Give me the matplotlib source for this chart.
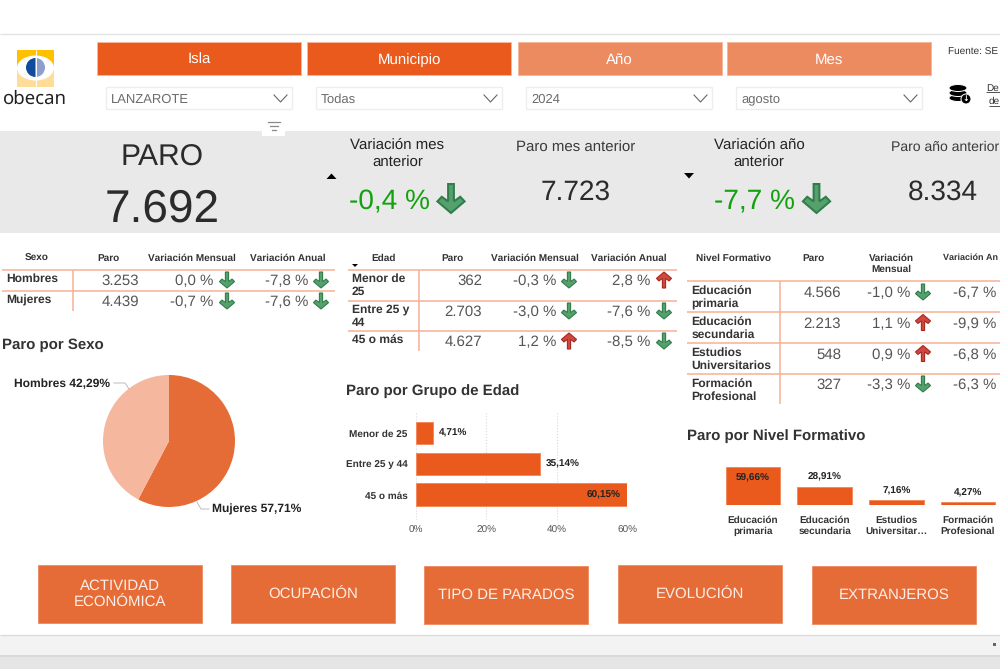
import matplotlib
matplotlib.use("Agg")
import matplotlib.pyplot as plt
from matplotlib.patches import Rectangle, Polygon, Ellipse, Wedge, Circle

plt.rcParams['font.family'] = ['Liberation Sans', 'DejaVu Sans']
plt.rcParams['text.hinting'] = 'no_hinting'
plt.rcParams['text.hinting_factor'] = 1

# ---------- data ----------
filter_titles = ['Isla', 'Municipio', 'Año', 'Mes']
filter_values = ['LANZAROTE', 'Todas', '2024', 'agosto']
nav_labels = ['ACTIVIDAD\nECONÓMICA', 'OCUPACIÓN', 'TIPO DE PARADOS', 'EVOLUCIÓN', 'EXTRANJEROS']

paro_total = '7.692'
paro_mes_anterior = '7.723'
paro_anio_anterior = '8.334'
var_mes = -0.4
var_anio = -7.7

sexo_labels = ['Hombres', 'Mujeres']
sexo_paro = ['3.253', '4.439']
sexo_mens = [0.0, -0.7]
sexo_anual = [-7.8, -7.6]

edad_labels = ['Menor de\n25', 'Entre 25 y\n44', '45 o más']
edad_paro = ['362', '2.703', '4.627']
edad_mens = [-0.3, -3.0, 1.2]
edad_anual = [2.8, -7.6, -8.5]

nivel_labels = ['Educación\nprimaria', 'Educación\nsecundaria', 'Estudios\nUniversitarios', 'Formación\nProfesional']
nivel_paro = ['4.566', '2.213', '548', '327']
nivel_mens = [-1.0, 1.1, 0.9, -3.3]
nivel_anual = [-6.7, -9.9, -6.8, -6.3]

pie_labels = ['Mujeres', 'Hombres']
pie_values = [57.71, 42.29]

edad_bar_labels = ['Menor de 25', 'Entre 25 y 44', '45 o más']
edad_bar_values = [4.71, 35.14, 60.15]
edad_ticks = [0, 20, 40, 60]

nivel_bar_labels = ['Educación\nprimaria', 'Educación\nsecundaria', 'Estudios\nUniversitar…', 'Formación\nProfesional']
nivel_bar_values = [59.66, 28.91, 7.16, 4.27]

# ---------- style ----------
ORANGE = '#e95a1c'
ORANGE_L = '#ec8a60'
NAV = '#e66c37'
RULE = '#f6b193'
TXT = '#252423'
VAL = '#555555'
W, H = 1000, 669

fig = plt.figure(figsize=(10, 6.69), dpi=100, facecolor='white')
bg = fig.add_axes([0, 0, 1, 1])
bg.set_xlim(0, W)
bg.set_ylim(H, 0)
bg.axis('off')


def axpx(x0, y0, x1, y1):
    a = fig.add_axes([x0 / W, 1 - y1 / H, (x1 - x0) / W, (y1 - y0) / H])
    a.patch.set_alpha(0)
    return a


def rect(x0, y0, x1, y1, fc, ec='none', lw=0.8, z=1):
    bg.add_patch(Rectangle((x0, y0), x1 - x0, y1 - y0, fc=fc, ec=ec, lw=lw, zorder=z))


def t(x, y, s, size, color=TXT, ha='center', va='center', weight='normal', **kw):
    return bg.text(x, y + size * 0.12, s, fontsize=size, color=color, ha=ha, va=va, weight=weight,
                   zorder=6, **kw)


def hline(x0, x1, y, color=RULE, lw=1.1):
    bg.plot([x0, x1], [y, y], color=color, lw=lw, zorder=3, solid_capstyle='butt')


def vline(x, y0, y1, color=RULE, lw=1.1):
    bg.plot([x, x], [y0, y1], color=color, lw=lw, zorder=3, solid_capstyle='butt')


def arrow(cx, cy, up, size=16):
    """Power BI style thick arrow icon."""
    h = size / 2
    w = size * 0.47
    s = size * 0.1
    pts = [(-s, -h), (s, -h), (s, h * 0.2), (w * 0.68, -h * 0.12), (w, h * 0.2),
           (0, h), (-w, h * 0.2), (-w * 0.68, -h * 0.12), (-s, h * 0.2)]
    sign = -1 if up else 1
    fc, ec = ('#d0473d', '#a5281f') if up else ('#55a06c', '#2f7d4a')
    bg.add_patch(Polygon([(cx + px, cy + sign * py) for px, py in pts], closed=True,
                         fc=fc, ec=ec, lw=size * 0.05, zorder=5, joinstyle='miter'))


def pct(v):
    return f'{v:.1f}'.replace('.', ',') + ' %'


# ---------- page frame ----------
hline(0, W, 34, color='#e4e4e4', lw=1.0)
rect(0, 131, W, 233, '#e9e9e9')
rect(0, 635, W, 655, '#f3f3f3')
hline(0, W, 634.5, color='#dcdcdc', lw=1.0)
hline(0, W, 656, color='#d2d2d2', lw=1.2)
rect(0, 657, W, H, '#e5e5e5')
rect(992.5, 643, 995.5, 646, '#666666')

# ---------- logo ----------
rect(17, 50, 54, 68, '#ffc000')
rect(17, 68, 54, 87, '#ffdd99')
bg.add_patch(Ellipse((35.5, 68), 37, 25, fc='white', ec='none', zorder=2))
bg.add_patch(Wedge((35.5, 67.5), 9.5, 90, 270, fc='#0f4c9c', ec='none', zorder=3))
bg.add_patch(Wedge((35.5, 67.5), 9.5, 270, 90, fc='#8c9fcc', ec='none', zorder=3))
vline(35.5, 50, 87, color='white', lw=0.7)
t(34.5, 97.5, 'obecan', 13.4, color='#222222', family=['Noto Sans', 'DejaVu Sans'])

# ---------- filters ----------
btn_x = [97, 307, 517.5, 727]
btn_c = [ORANGE, ORANGE, ORANGE_L, ORANGE_L]
drop_x = [106, 316, 526, 736]
for x, c, title, dx, val in zip(btn_x, btn_c, filter_titles, drop_x, filter_values):
    rect(x, 41.5, x + 204, 75, c, ec='#f6b79c', lw=0.7)
    t(x + 102, 58.5, title, 10.5, color='white')
    rect(dx, 87, dx + 186, 109, 'white', ec='#eeeeee', lw=1)
    t(dx + 5, 98.8, val, 9.3, color='#6b6b6b', ha='left')
    bg.plot([dx + 168, dx + 174.5, dx + 181], [95, 102, 95], color='#666666', lw=0.8, zorder=4)

# filter icon
rect(262, 120, 285, 136, 'white', z=2)
for yy, x0, x1 in [(122, 268, 280), (126, 270, 278), (130, 272, 276)]:
    bg.plot([x0, x1], [yy, yy], color='#8a8a8a', lw=0.9, zorder=4)

# source and download
t(948, 51.5, 'Fuente: SE', 7.2, color='#333333', ha='left')
for yy in (98, 93, 88):
    bg.add_patch(Ellipse((958, yy), 18, 7, fc='black', ec='white', lw=0.7, zorder=4))
bg.add_patch(Circle((966, 99), 5, fc='black', ec='white', lw=0.7, zorder=5))
t(966, 98.5, '↓', 6, color='white', weight='bold', family='DejaVu Sans')
t(986, 87, 'De', 7.2, color='#333333', ha='left')
t(989, 100.5, 'de', 7.2, color='#333333', ha='left')
hline(986, W, 92, color='#333333', lw=0.6)
hline(989, W, 105.5, color='#333333', lw=0.6)

# ---------- KPI band ----------
GREEN = '#13a10e'
t(162, 155, 'PARO', 21.6, color='#2b2b2b')
t(162, 206, paro_total, 33, color='#2b2b2b')
t(397.5, 153, 'Variación mes\nanterior', 11, color='#222222', linespacing=1.35)
t(389, 199.5, pct(var_mes), 20.4, color=GREEN)
arrow(451, 198.5, var_mes > 0, size=29)
t(576, 147, 'Paro mes anterior', 11, color='#3a3a3a')
t(576, 190.5, paro_mes_anterior, 20.5, color='#2b2b2b')
t(759, 153, 'Variación año\nanterior', 11, color='#222222', linespacing=1.35)
t(754.5, 199.5, pct(var_anio), 20.4, color=GREEN)
arrow(816.5, 198.5, var_anio > 0, size=29)
t(999, 146, 'Paro año anterior', 10.1, color='#3a3a3a', ha='right')
t(943, 190, paro_anio_anterior, 20.5, color='#2b2b2b')
bg.add_patch(Polygon([(326.5, 179), (336.5, 179), (331.5, 173.5)], fc='black', zorder=5))
bg.add_patch(Polygon([(684, 173), (694, 173), (689, 178.5)], fc='black', zorder=5))


# ---------- tables ----------
def table(labels, paro, mens, anual, x0, x1, xv, rule_y, vend, label_x, label_y, val_y,
          xp, xm, xa, xma, xaa):
    for y in rule_y:
        hline(x0, x1, y)
    vline(xv, rule_y[0], vend)
    for lab, ly, vy, p, m, a in zip(labels, label_y, val_y, paro, mens, anual):
        t(label_x, ly, lab, 8.7, color='#333333', ha='left', weight='bold', linespacing=1.25)
        t(xp, vy, p, 11, color=VAL, ha='right')
        t(xm, vy, pct(m), 11, color=VAL, ha='right')
        arrow(xma, vy, m > 0)
        t(xa, vy, pct(a), 11, color=VAL, ha='right')
        if xaa is not None:
            arrow(xaa, vy, a > 0)


HDR = dict(size=7, color='#333333', weight='bold')
t(37, 257, 'Sexo', **HDR)
t(108, 257, 'Paro', **HDR)
t(191.5, 257, 'Variación Mensual', **HDR)
t(287.5, 257, 'Variación Anual', **HDR)
table(sexo_labels, sexo_paro, sexo_mens, sexo_anual, 2, 335, 72.5, [270, 291], 311,
      6, [278, 299], [280, 301], 139, 213, 308, 227, 321)

t(383.5, 257, 'Edad', **HDR)
t(452.5, 257, 'Paro', **HDR)
t(535, 257, 'Variación Mensual', **HDR)
t(629, 257, 'Variación Anual', **HDR)
bg.add_patch(Polygon([(352, 264), (358, 264), (355, 267)], fc='black', zorder=5))
table(edad_labels, edad_paro, edad_mens, edad_anual, 348, 677, 418.7, [270, 300.5, 331], 351,
      352, [284.5, 315.5, 339], [280, 311, 341], 482, 556, 650, 569, 664)

t(734, 257, 'Nivel Formativo', **HDR)
t(813, 257, 'Paro', **HDR)
t(891, 263, 'Variación\nMensual', linespacing=1.2, **HDR)
t(943, 257, 'Variación An', size=6.7, color='#333333', weight='bold', ha='left')
table(nivel_labels, nivel_paro, nivel_mens, nivel_anual, 687, W, 779.5, [281, 312, 343, 374], 404,
      691.5, [296.5, 327.5, 358, 389], [292, 322.5, 353.5, 384], 841, 910, 996, 923, None)

# ---------- section titles ----------
TTL = dict(size=11, color='#333333', weight='bold', ha='left')
t(2, 343.5, 'Paro por Sexo', **TTL)
t(345.5, 389.5, 'Paro por Grupo de Edad', **TTL)
t(687, 434.5, 'Paro por Nivel Formativo', **TTL)

# ---------- pie ----------
pie_ax = axpx(103, 375, 235, 507)
pie_ax.pie(pie_values, colors=['#e66c37', '#f5b79e'], startangle=90, counterclock=False,
           radius=1.0, wedgeprops=dict(lw=0))
pie_ax.set_xlim(-1, 1)
pie_ax.set_ylim(-1, 1)
t(110, 382.5, f'{pie_labels[1]} {pie_values[1]:.2f}%'.replace('.', ','), 8.7, color='#222222',
  ha='right', weight='bold')
t(212, 508.5, f'{pie_labels[0]} {pie_values[0]:.2f}%'.replace('.', ','), 8.7, color='#222222',
  ha='left', weight='bold')
bg.plot([114, 125, 129], [383, 383, 389], color='#bdbdbd', lw=0.7, zorder=4)
bg.plot([197, 201, 209], [502, 509, 509], color='#bdbdbd', lw=0.7, zorder=4)

# ---------- age bars ----------
ax1 = axpx(416, 412, 627, 520)
ypos = list(range(len(edad_bar_values)))
ax1.barh(ypos, edad_bar_values, height=0.74, color=ORANGE, ec='#f28a5f', lw=0.7, zorder=3)
ax1.set_xlim(0, 60)
ax1.set_ylim(2.81, -0.68)
ax1.set_xticks(edad_ticks)
ax1.set_xticklabels([f'{v}%' for v in edad_ticks], fontsize=7.3, color=VAL)
ax1.set_yticks(ypos)
ax1.set_yticklabels(edad_bar_labels, fontsize=7, color='#333333', weight='bold')
ax1.tick_params(length=0)
ax1.tick_params(axis='x', pad=4)
ax1.tick_params(axis='y', pad=6)
ax1.grid(axis='x', color='#d9d9d9', ls=':', lw=0.8, zorder=0)
for s in ax1.spines.values():
    s.set_visible(False)
for y, v in zip(ypos, edad_bar_values):
    lab = f'{v:.2f}%'.replace('.', ',')
    if v > 50:
        ax1.text(v - 2, y, lab, ha='right', va='center', fontsize=7, weight='bold', color='#222222', zorder=4)
    else:
        ax1.text(v + 1.7, y, lab, ha='left', va='center', fontsize=7, weight='bold', color='#222222', zorder=4)

# ---------- education bars ----------
ax2 = axpx(717.2, 460, 1003.8, 505)
xpos = list(range(len(nivel_bar_values)))
ax2.bar(xpos, nivel_bar_values, width=0.76, color=ORANGE, ec='#f28a5f', lw=0.7, zorder=3)
ax2.set_xlim(-0.5, 3.5)
ax2.set_ylim(0, 71)
ax2.set_xticks(xpos)
ax2.set_xticklabels(nivel_bar_labels, fontsize=7, color='#333333', weight='bold', linespacing=1.2)
ax2.set_yticks([])
ax2.tick_params(length=0, pad=8)
for s in ax2.spines.values():
    s.set_visible(False)
for x, v in zip(xpos, nivel_bar_values):
    lab = f'{v:.2f}%'.replace('.', ',')
    if v > 50:
        ax2.text(x, v - 17, lab, ha='center', va='center', fontsize=7, weight='bold', color='#222222', zorder=4)
    else:
        ax2.text(x, v + 15, lab, ha='center', va='center', fontsize=7, weight='bold', color='#222222', zorder=4)

# ---------- navigation ----------
nav_x = [38, 231, 424, 618, 812]
nav_y = [565, 565, 566, 565, 566]
for x, y, lab in zip(nav_x, nav_y, nav_labels):
    rect(x, y, x + 164, y + 58, NAV, ec='#ee8a5f', lw=0.6)
    t(x + 82, y + 28, lab, 11, color='#fdeee7', linespacing=1.2)

fig.savefig('out.png', dpi=100)
